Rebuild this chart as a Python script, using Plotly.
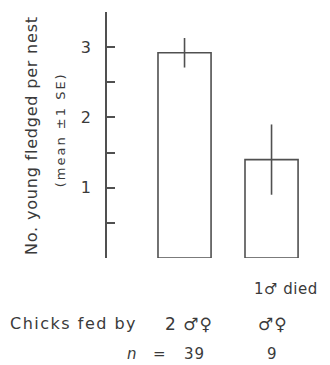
import plotly.graph_objects as go

groups = ["2 ♂♀", "♂♀"]
means = [2.92, 1.40]
se = [0.21, 0.50]
n_vals = ["39", "9"]
tick_vals = [0, 0.5, 1, 1.5, 2, 2.5, 3, 3.5]
tick_text = ["", "", "1", "", "2", "", "3", ""]

ink = "#3a3a3a"
line_col = "#505050"
font_family = "DejaVu Sans, Liberation Sans, Arial, sans-serif"

xpos = [1, 2]


def spaced(t, px):
    return f'<span style="letter-spacing:{px}px">{t}</span>'


fig = go.Figure()
fig.add_trace(go.Bar(
    x=xpos, y=means, width=0.61,
    marker=dict(color="white", line=dict(color=line_col, width=1.6)),
    error_y=dict(type="data", array=se, visible=True, width=0,
                 thickness=1.6, color=line_col),
    cliponaxis=False,
))

annotations = [
    dict(text=spaced("No. young fledged per nest", 0.8), xref="paper", yref="paper",
         x=-0.357, y=0.5, textangle=-90, showarrow=False,
         xanchor="center", yanchor="middle",
         font=dict(size=16, color=ink)),
    dict(text=spaced("(mean ±1 SE)", 2), xref="paper", yref="paper",
         x=-0.22, y=0.52, textangle=-90, showarrow=False,
         xanchor="center", yanchor="middle",
         font=dict(size=13, color=ink)),
    dict(text=spaced("1♂ died", 0.5), xref="paper", yref="paper", x=1.0, y=-0.126,
         xanchor="right", yanchor="middle",
         showarrow=False, font=dict(size=15, color=ink)),
    dict(text=spaced("Chicks fed by", 1.5), xref="paper", yref="paper", x=-0.157, y=-0.268,
         xanchor="center", yanchor="middle",
         showarrow=False, font=dict(size=16, color=ink)),
    dict(text="<i>n</i>", xref="x", yref="paper", x=0.397, y=-0.39,
         xanchor="center", yanchor="middle",
         showarrow=False, font=dict(size=15, color=ink)),
    dict(text="=", xref="x", yref="paper", x=0.707, y=-0.39,
         xanchor="center", yanchor="middle",
         showarrow=False, font=dict(size=15, color=ink)),
]
g_x = [1.046, 2.02]
for gx, g in zip(g_x, groups):
    annotations.append(dict(text=spaced(g, 1), xref="x", yref="paper", x=gx, y=-0.268,
                            xanchor="center", yanchor="middle",
                            showarrow=False, font=dict(size=17, color=ink)))
n_x = [1.12, 2.006]
for nx, nv in zip(n_x, n_vals):
    annotations.append(dict(text=spaced(nv, 1), xref="x", yref="paper", x=nx, y=-0.39,
                            xanchor="center", yanchor="middle",
                            showarrow=False, font=dict(size=15, color=ink)))

fig.update_layout(
    width=322, height=357,
    margin=dict(l=99, r=10, t=4, b=107),
    paper_bgcolor="white", plot_bgcolor="white",
    showlegend=False,
    font=dict(family=font_family, color=ink),
    xaxis=dict(range=[0.109, 2.557], visible=False, fixedrange=True),
    yaxis=dict(range=[0, 3.5], tickvals=tick_vals, ticktext=tick_text,
               ticks="inside", ticklen=8, tickwidth=1.6, tickcolor=line_col,
               showline=True, linecolor=line_col, linewidth=1.6,
               showgrid=False, zeroline=False, ticklabelstandoff=11,
               tickfont=dict(size=16, color=ink), fixedrange=True),
    annotations=annotations,
)

fig.write_html("out.html")
